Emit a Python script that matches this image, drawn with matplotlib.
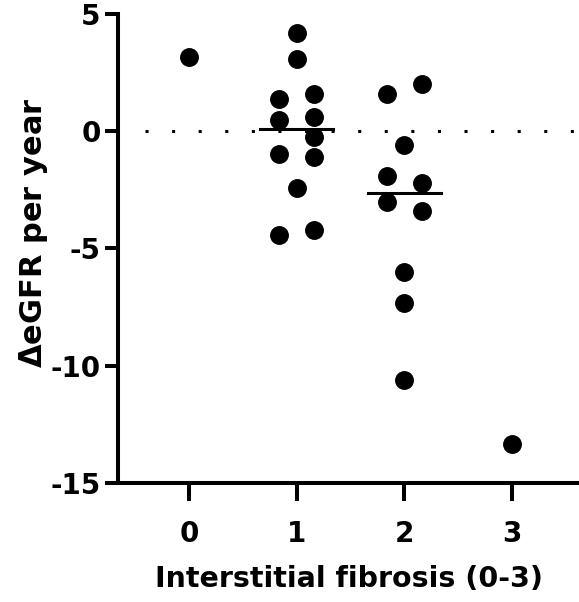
import numpy as np
import matplotlib
matplotlib.use("Agg")
import matplotlib.pyplot as plt

plt.rcParams["font.family"] = ["DejaVu Sans"]
plt.rcParams["font.weight"] = "bold"

# data: change in eGFR per year by interstitial fibrosis grade
grades = [0, 1, 2, 3]
g0 = [3.15]
g1 = [4.17, 3.06, 1.38, 1.56, 0.45, 0.61, -0.25, -1.00, -1.10, -2.43, -4.42, -4.21]
g2 = [1.56, 1.99, -0.62, -1.93, -2.21, -3.04, -3.43, -6.02, -7.32, -10.62]
g3 = [-13.32]

# column slot of each point within its group (-1 left, 0 middle, 1 right)
slots0 = [0]
slots1 = [0, 0, -1, 1, -1, 1, 1, -1, 1, 0, -1, 1]
slots2 = [-1, 1, 0, -1, 1, -1, 1, 0, 0, 0]
slots3 = [0]

groups = [g0, g1, g2, g3]
slots = [slots0, slots1, slots2, slots3]

fig = plt.figure(figsize=(5.79, 6.02), dpi=100)
ax = fig.add_axes([0.2038, 0.1977, 0.7962, 0.7798])

spread = 0.165
for g, vals, sl in zip(grades, groups, slots):
    xs = g + np.array(sl) * spread
    ax.scatter(xs, vals, s=185, color="black", zorder=3, linewidths=0)
    if len(vals) > 1:
        m = np.median(vals)
        ax.plot([g - 0.34, g + 0.34], [m, m], color="black", lw=2.2, zorder=4)

# dotted zero line
ax.plot([-0.41, 3.62], [0, 0], color="black", lw=2.2,
        linestyle=(0, (1, 7.7)), zorder=2)

ax.set_xlim(-0.659, 3.622)
ax.set_ylim(-15, 5)
ax.set_xticks(grades)
ax.set_yticks([-15, -10, -5, 0, 5])
ax.set_yticklabels(["-15", "-10", "-5", "0", "5"])

for s in ["top", "right"]:
    ax.spines[s].set_visible(False)
for s in ["left", "bottom"]:
    ax.spines[s].set_linewidth(2.9)

ax.tick_params(axis="y", length=9.5, width=2.9, labelsize=20, pad=3)
ax.tick_params(axis="x", length=13, width=2.9, labelsize=20, pad=14)

ax.set_xlabel("Interstitial fibrosis (0-3)", fontsize=20.5, fontweight="bold", labelpad=12)
fig.text(34 / 579, 1 - 233 / 602, r"$\Delta$eGFR per year", rotation=90,
         ha="center", va="center", fontsize=22, fontweight="bold")

fig.savefig("out.png", dpi=100)
